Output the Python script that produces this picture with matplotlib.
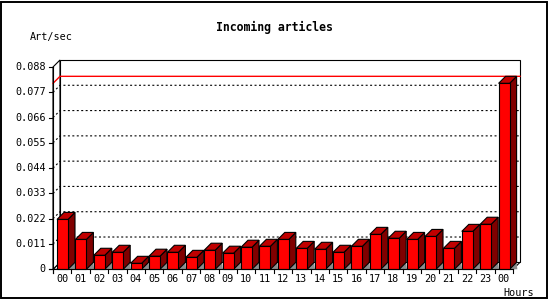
import matplotlib
matplotlib.use("Agg")
import matplotlib.pyplot as plt
from matplotlib.patches import Polygon, Rectangle

# articles per second, one bar per hour (last "00" is the current hour)
hours = ["00", "01", "02", "03", "04", "05", "06", "07", "08", "09", "10", "11",
         "12", "13", "14", "15", "16", "17", "18", "19", "20", "21", "22", "23", "00"]
rate = [0.0217, 0.0130, 0.0061, 0.0074, 0.0026, 0.0057, 0.0074, 0.0052, 0.0083,
        0.0070, 0.0096, 0.0100, 0.0130, 0.0091, 0.0087, 0.0074, 0.0100, 0.0152,
        0.0135, 0.0130, 0.0143, 0.0091, 0.0165, 0.0196, 0.0809]
y_ticks = [0, 0.011, 0.022, 0.033, 0.044, 0.055, 0.066, 0.077, 0.088]
y_labels = ["0", "0.011", "0.022", "0.033", "0.044", "0.055", "0.066", "0.077", "0.088"]

W, H = 550, 300
X0_PX, SLOT_PX = 53.0, 18.4        # front axis origin and slot pitch
Y0_PX, YTOP_PX = 269.3, 67.0       # pixel rows of 0 and of the top tick
DEPTH_PX = 7.0

FONT = "DejaVu Sans Mono"
RED, TOP, SIDE, SHADOW = "#ff0000", "#c00000", "#800000", "#8c8c8c"

ymax = y_ticks[-1]
px_per_unit = (Y0_PX - YTOP_PX) / ymax
dx = DEPTH_PX / SLOT_PX
dy = DEPTH_PX / px_per_unit
n = len(rate)

fig = plt.figure(figsize=(W / 100, H / 100), dpi=100)
ax = fig.add_axes([0, 0, 1, 1])
ax.set_xlim(-X0_PX / SLOT_PX, (W - X0_PX) / SLOT_PX)
ax.set_ylim(-(H - Y0_PX) / px_per_unit, Y0_PX / px_per_unit)
ax.axis("off")

lw = 0.8
edge = dict(edgecolor="black", linewidth=lw, joinstyle="miter")

# outer frame
fig.patches.append(Rectangle((0.8 / W, 1.8 / H), 546.5 / W, 296.5 / H,
                             transform=fig.transFigure, fill=False,
                             edgecolor="black", linewidth=1.4))

# floor, left wall and back wall
ax.add_patch(Polygon([(0, 0), (dx, dy), (n + dx, dy), (n, 0)],
                     facecolor="white", **edge, zorder=1))
ax.add_patch(Polygon([(0, 0), (dx, dy), (dx, ymax + dy), (0, ymax)],
                     facecolor="white", **edge, zorder=1))
ax.add_patch(Rectangle((dx, dy), n, ymax, facecolor="white", **edge, zorder=1))

# dotted grid on the back wall
for v in y_ticks[1:-1]:
    ax.plot([0, dx, n + dx], [v, v + dy, v + dy], color="black", lw=lw,
            linestyle=(0, (1.8, 2.2)), zorder=2)

# maximum marker line
top_val = max(rate)
ax.plot([0, dx, n + dx], [top_val, top_val + dy, top_val + dy],
        color=RED, lw=1.0, zorder=2)

# bars
bw, off = 11 / SLOT_PX, 4 / SLOT_PX
for i, v in enumerate(rate):
    x0 = i + off
    x1 = x0 + bw
    ax.add_patch(Polygon([(x1, 0), (x1 + dx, dy), (x1 + dx + 0.04, 0)],
                         facecolor=SHADOW, edgecolor="none", zorder=3))
    ax.add_patch(Polygon([(x1, 0), (x1 + dx, dy), (x1 + dx, v + dy), (x1, v)],
                         facecolor=SIDE, **edge, zorder=4))
    ax.add_patch(Polygon([(x0, v), (x0 + dx, v + dy), (x1 + dx, v + dy), (x1, v)],
                         facecolor=TOP, **edge, zorder=4))
    ax.add_patch(Rectangle((x0, 0), bw, v, facecolor=RED, **edge, zorder=5))

# front axes
tick_len_x = 4 / SLOT_PX
tick_len_y = 4 / px_per_unit
ax.plot([0, 0], [-tick_len_y, ymax], color="black", lw=lw, zorder=6)
ax.plot([-tick_len_x, n], [0, 0], color="black", lw=lw, zorder=6)
for v, lab in zip(y_ticks, y_labels):
    ax.plot([-tick_len_x, 0], [v, v], color="black", lw=lw, zorder=6)
    ax.text(-7 / SLOT_PX, v, lab, ha="right", va="center", family=FONT,
            fontsize=7.3)
for i in range(n + 1):
    ax.plot([i, i], [0, -tick_len_y], color="black", lw=lw, zorder=6)
for i, lab in enumerate(hours):
    ax.text(i + 0.5, -10 / px_per_unit, lab, ha="center", va="center",
            family=FONT, fontsize=7.3)

fig.text(274 / W, 1 - 27 / H, "Incoming articles", ha="center", va="center",
         family=FONT, fontsize=8.3, fontweight="bold")
fig.text(30 / W, 1 - 37 / H, "Art/sec", ha="left", va="center",
         family=FONT, fontsize=7.3)
fig.text(534 / W, 1 - 292.5 / H, "Hours", ha="right", va="center",
         family=FONT, fontsize=7.3)

fig.savefig("out.png", dpi=100)
